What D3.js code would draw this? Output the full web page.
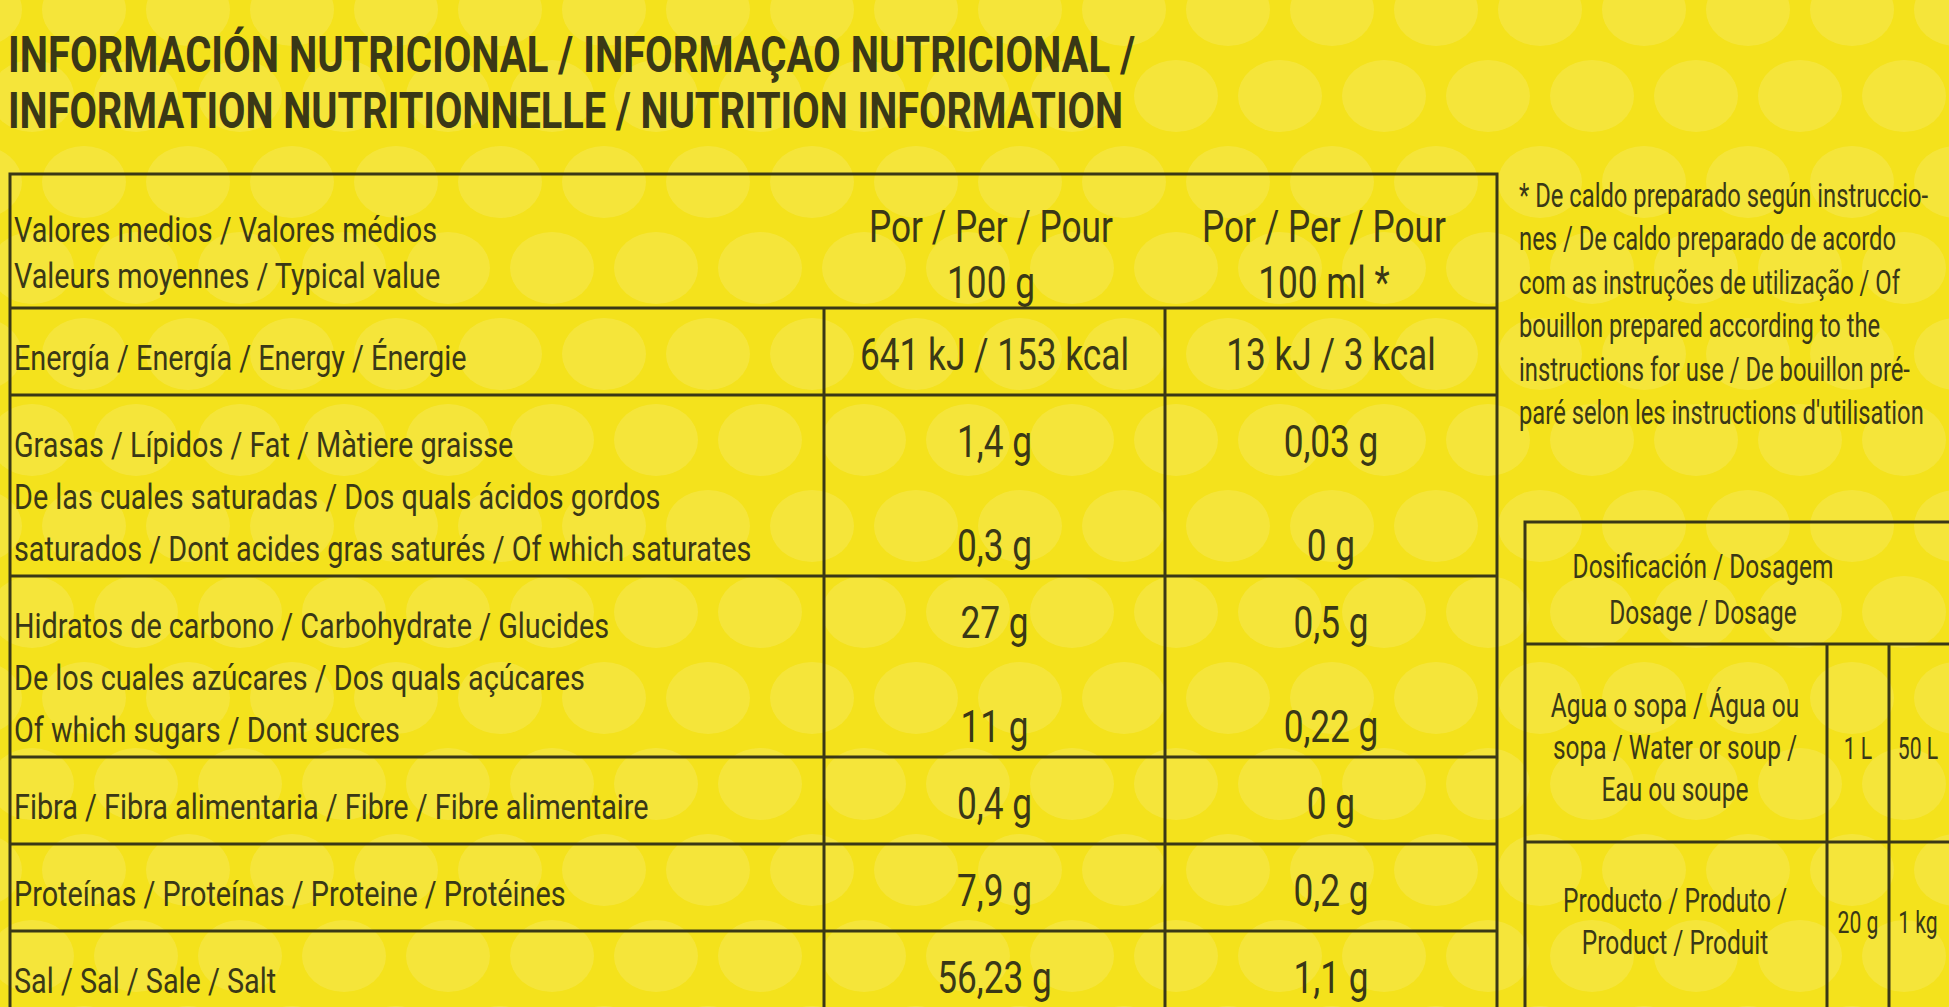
<!DOCTYPE html>
<html><head><meta charset="utf-8">
<script src="https://cdn.jsdelivr.net/npm/d3@7"></script>
<style>body{margin:0;background:#f4e21c;overflow:hidden}</style>
</head><body><div id="wrapper"></div>
<script>
const titleLines = ["INFORMACIÓN NUTRICIONAL / INFORMAÇAO NUTRICIONAL /", "INFORMATION NUTRITIONNELLE / NUTRITION INFORMATION"]
const headerLabels = ["Valores medios / Valores médios", "Valeurs moyennes / Typical value"]
const headerCols = [["Por / Per / Pour", "100 g"], ["Por / Per / Pour", "100 ml *"]]
const rowLabels = [
    ["Energía / Energía / Energy / Énergie"],
    ["Grasas / Lípidos / Fat / Màtiere graisse", "De las cuales saturadas / Dos quals ácidos gordos", "saturados / Dont acides gras saturés / Of which saturates"],
    ["Hidratos de carbono / Carbohydrate / Glucides", "De los cuales azúcares / Dos quals açúcares", "Of which sugars / Dont sucres"],
    ["Fibra / Fibra alimentaria / Fibre / Fibre alimentaire"],
    ["Proteínas / Proteínas / Proteine / Protéines"],
    ["Sal / Sal / Sale / Salt"]
]
const per100g = [["641 kJ / 153 kcal"], ["1,4 g", "", "0,3 g"], ["27 g", "", "11 g"], ["0,4 g"], ["7,9 g"], ["56,23 g"]]
const per100ml = [["13 kJ / 3 kcal"], ["0,03 g", "", "0 g"], ["0,5 g", "", "0,22 g"], ["0 g"], ["0,2 g"], ["1,1 g"]]
const footnote = ["* De caldo preparado según instruccio-", "nes / De caldo preparado de acordo", "com as instruções de utilização / Of", "bouillon prepared according to the", "instructions for use / De bouillon pré-", "paré selon les instructions d'utilisation"]
const doseHeader = ["Dosificación / Dosagem", "Dosage / Dosage"]
const doseRows = [
    {label: ["Agua o sopa / Água ou", "sopa / Water or soup /", "Eau ou soupe"], a: "1 L", b: "50 L"},
    {label: ["Producto / Produto /", "Product / Produit"], a: "20 g", b: "1 kg"}
]

const W = 1949, H = 1007
const ink = "#3a3816"
const font = "Roboto, 'Liberation Sans', sans-serif"
const sx = 0.76

const svg = d3.select("#wrapper").append("svg").attr("width", W).attr("height", H)
svg.append("rect").attr("width", W).attr("height", H).attr("fill", "#f4e21c")

// polka dot background
const dots = []
d3.range(0, 13).forEach(r => d3.range(0, 22).forEach(c => dots.push([c * 104 + (r % 2) * 52 - 20, r * 86 + 10])))
svg.append("g").selectAll("ellipse").data(dots).join("ellipse")
    .attr("cx", d => d[0]).attr("cy", d => d[1]).attr("rx", 42).attr("ry", 36)
    .attr("fill", "#f7ea6a").attr("opacity", 0.4)

// condensed text: draw scaled horizontally
const txt = (g, x, y, s, size, anchor = "start", weight = 400, scale = sx) =>
    g.append("text").attr("x", x / scale).attr("y", y).text(s)
        .attr("transform", `scale(${scale},1)`)
        .attr("font-family", font).attr("font-size", size).attr("font-weight", weight)
        .attr("fill", ink).attr("text-anchor", anchor)

// title
titleLines.forEach((t, i) => txt(svg, 8, 72 + i * 56, t, 50, "start", 700, 1).attr("textLength", i ? 1115 : 1127).attr("lengthAdjust", "spacingAndGlyphs"))

// main table
const tableX = d3.scaleLinear().domain([0, 1]).range([10, 1497])
const colEdges = [tableX(0), 824, 1165, tableX(1)]
const col1 = (colEdges[1] + colEdges[2]) / 2, col2 = (colEdges[2] + colEdges[3]) / 2
const rowH = d3.scaleLinear().domain([1, 3]).range([87, 181])

const allRows = [{labels: headerLabels, a: null, b: null, header: true}]
    .concat(rowLabels.map((l, i) => ({labels: l, a: per100g[i], b: per100ml[i]})))
let y0 = 174
allRows.forEach(r => { r.y = y0; r.h = rowH(r.labels.length); y0 += r.h })

const tbl = svg.append("g")
tbl.append("rect").attr("x", colEdges[0]).attr("y", 174).attr("width", colEdges[3] - colEdges[0])
    .attr("height", y0 - 174).attr("fill", "none").attr("stroke", ink).attr("stroke-width", 3)
allRows.forEach((r, i) => {
    if (i > 0) {
        tbl.append("line").attr("x1", colEdges[0]).attr("x2", colEdges[3]).attr("y1", r.y).attr("y2", r.y).attr("stroke", ink).attr("stroke-width", 3)
        ;[1, 2].forEach(c => tbl.append("line").attr("x1", colEdges[c]).attr("x2", colEdges[c]).attr("y1", r.y).attr("y2", r.y + r.h).attr("stroke", ink).attr("stroke-width", 3))
    }
    const base = r.y + (r.header ? 68 : 62)
    r.labels.forEach((l, j) => txt(tbl, 14, base + j * (r.header ? 46 : 52), l, 36, "start", 400, 0.8))
    if (r.header) {
        headerCols.forEach((hc, c) => hc.forEach((s, j) => txt(tbl, c ? 1324 : 991, base + j * 56, s, 44, "middle", 400, 0.8)))
    } else {
        r.a.forEach((s, j) => txt(tbl, col1, base + j * 52, s, 44, "middle", 400, 0.8))
        r.b.forEach((s, j) => txt(tbl, col2, base + j * 52, s, 44, "middle", 400, 0.8))
    }
})

// footnote
footnote.forEach((s, i) => txt(svg, 1519, 207 + i * 43.5, s, 34, "start", 400, 0.7))

// dosage table
const dg = svg.append("g")
const dx = [1525, 1827, 1889, W + 10]
const dy = [522, 644, 842, 1040]
dg.append("rect").attr("x", dx[0]).attr("y", dy[0]).attr("width", dx[3] - dx[0]).attr("height", dy[3] - dy[0]).attr("fill", "none").attr("stroke", ink).attr("stroke-width", 3)
;[1, 2].forEach(i => dg.append("line").attr("x1", dx[0]).attr("x2", dx[3]).attr("y1", dy[i]).attr("y2", dy[i]).attr("stroke", ink).attr("stroke-width", 3))
;[1, 2].forEach(i => dg.append("line").attr("x1", dx[i]).attr("x2", dx[i]).attr("y1", dy[1]).attr("y2", dy[3]).attr("stroke", ink).attr("stroke-width", 3))
doseHeader.forEach((s, i) => txt(dg, 1703, 578 + i * 46, s, 34, "middle", 400, 0.72))
doseRows.forEach((r, i) => {
    const top = dy[i + 1]
    const n = r.label.length
    const mid = top + (i ? 80 : 104)
    r.label.forEach((s, j) => txt(dg, 1675, mid + (j - (n - 1) / 2) * 42 + 11, s, 34, "middle", 400, 0.72))
    txt(dg, 1858, mid + 11, r.a, 32, "middle", 400, 0.66)
    txt(dg, 1918, mid + 11, r.b, 32, "middle", 400, 0.66)
})
</script></body></html>
